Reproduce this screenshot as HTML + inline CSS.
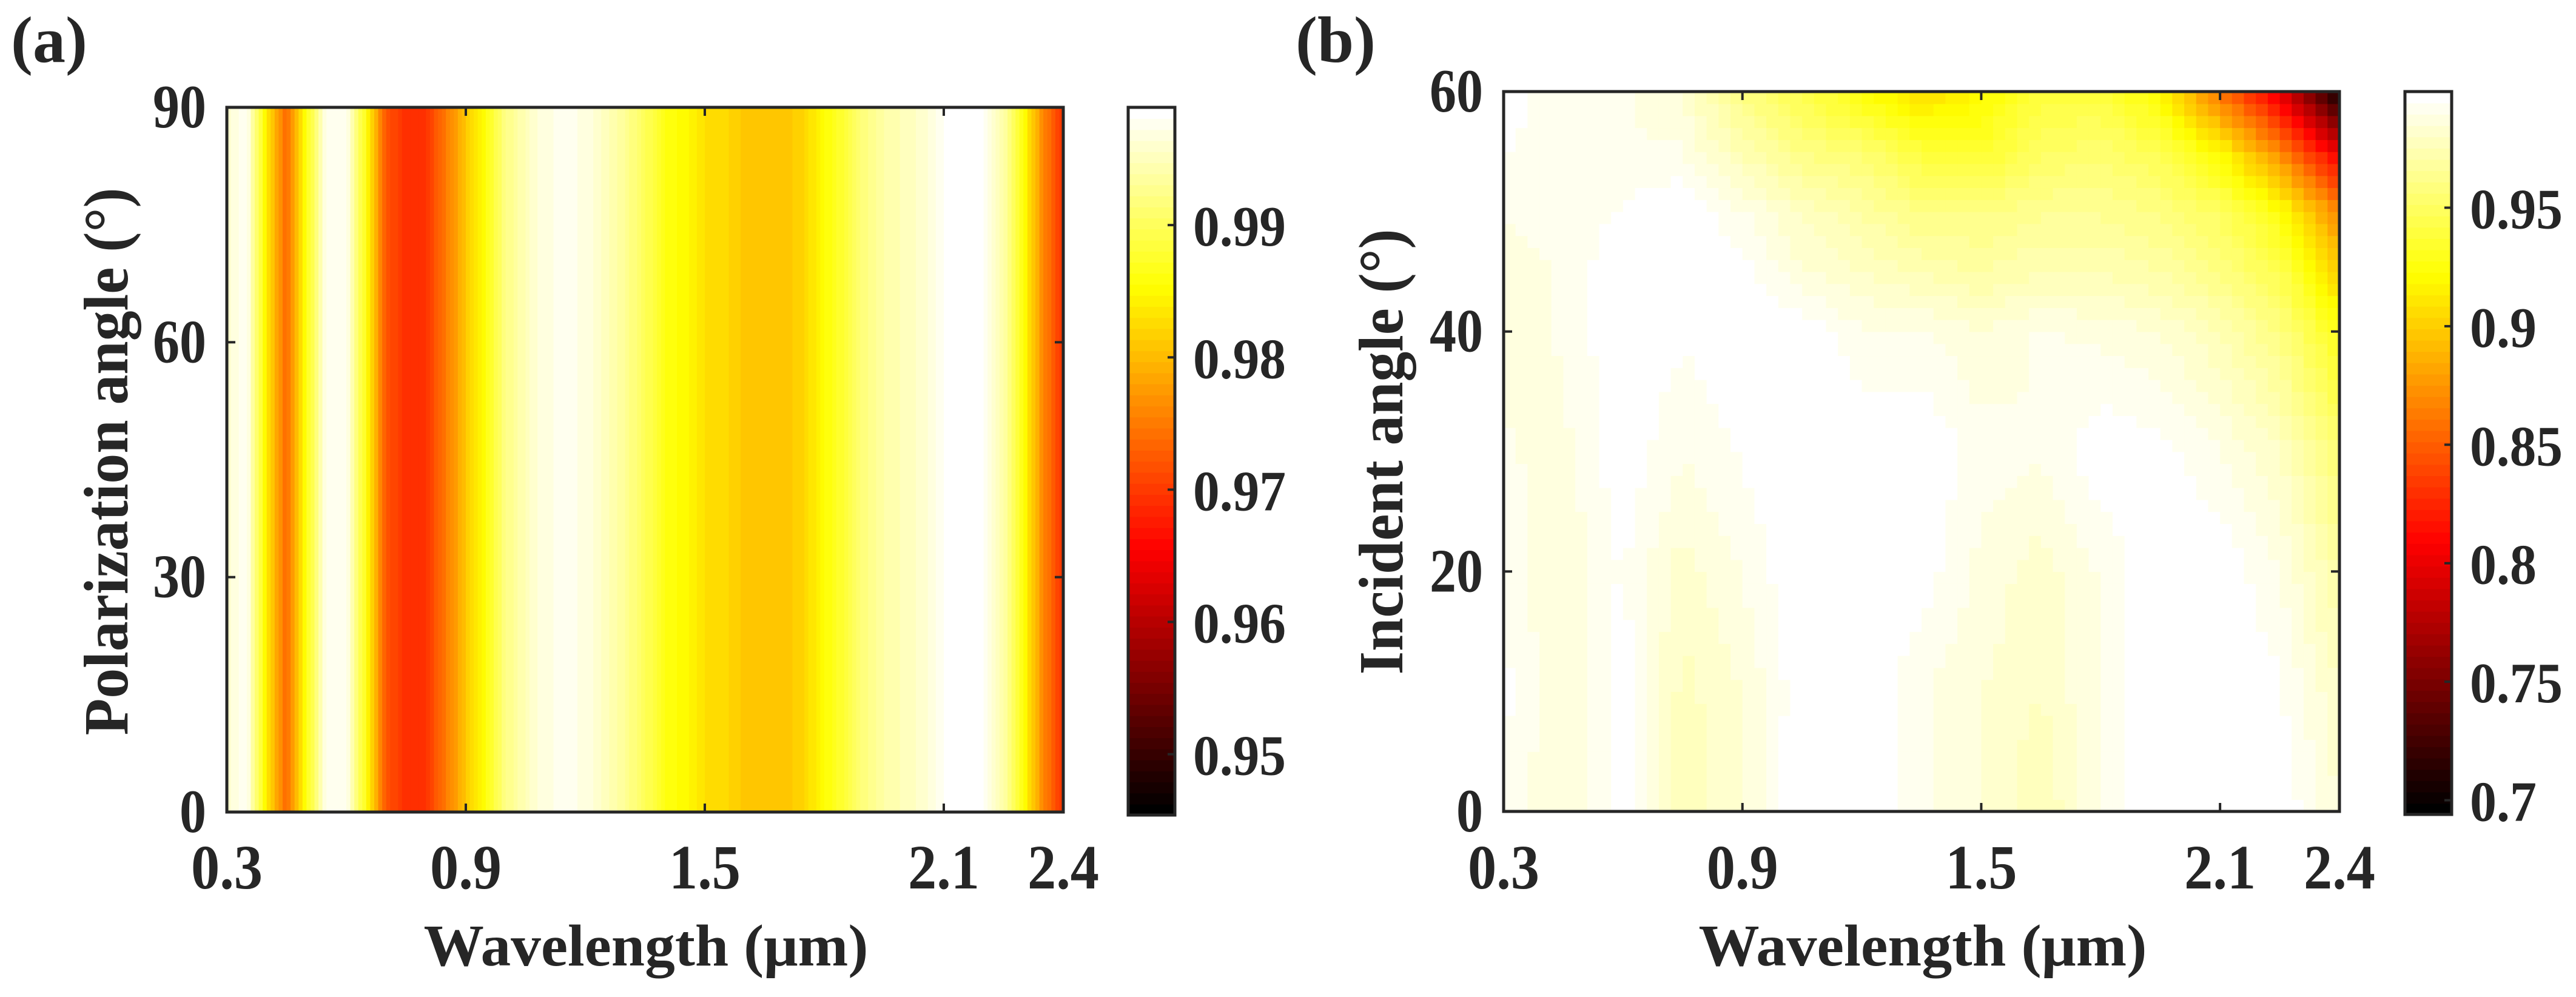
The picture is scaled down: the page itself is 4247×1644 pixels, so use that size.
<!DOCTYPE html>
<html>
<head>
<meta charset="utf-8">
<style>
html,body{margin:0;padding:0;background:#fff;}
svg{display:block;}
text{font-family:"Liberation Serif","Times New Roman",serif;font-weight:bold;fill:#262626;}
</style>
</head>
<body>
<svg id="fig" width="4247" height="1644" viewBox="0 0 4247 1644" xmlns="http://www.w3.org/2000/svg">
  <rect x="0" y="0" width="4247" height="1644" fill="#fff"/>
  <g id="panelA">
    <g id="heatA"></g>
    <rect x="374" y="177" width="1379" height="1162" fill="none" stroke="#262626" stroke-width="5"/>
    <g id="ticksA"></g>
    <g id="cbarA"></g>
    <text x="18" y="102" font-size="108">(a)</text>
    <text x="1065" y="1592" font-size="98" text-anchor="middle" textLength="733" lengthAdjust="spacingAndGlyphs">Wavelength (μm)</text>
    <text transform="translate(210,761) rotate(-90)" x="0" y="0" font-size="104" text-anchor="middle" textLength="903" lengthAdjust="spacingAndGlyphs">Polarization angle (°)</text>
  </g>
  <g id="panelB">
    <g id="heatB"></g>
    <rect x="2479" y="151" width="1378" height="1187" fill="none" stroke="#262626" stroke-width="5"/>
    <g id="ticksB"></g>
    <g id="cbarB"></g>
    <text x="2136" y="102" font-size="108">(b)</text>
    <text x="3170" y="1592" font-size="98" text-anchor="middle" textLength="739" lengthAdjust="spacingAndGlyphs">Wavelength (μm)</text>
    <text transform="translate(2312,745) rotate(-90)" x="0" y="0" font-size="104" text-anchor="middle" textLength="735" lengthAdjust="spacingAndGlyphs">Incident angle (°)</text>
  </g>
</svg>
<script>
// ---- Panel (a) data: absorptance vs wavelength (independent of polarization angle)
const wavelengthsA = [0.30,0.35,0.40,0.45,0.50,0.55,0.60,0.65,0.70,0.75,0.80,0.85,0.90,0.95,1.00,1.05,1.10,1.15,1.20,1.25,1.30,1.35,1.40,1.45,1.50,1.55,1.60,1.65,1.70,1.75,1.80,1.85,1.90,1.95,2.00,2.05,2.10,2.15,2.20,2.25,2.30,2.35,2.40];
const valuesA = [0.996,0.998,0.984,0.9735,0.986,0.998,0.998,0.986,0.972,0.9692,0.9695,0.975,0.981,0.986,0.992,0.995,0.997,0.9975,0.997,0.995,0.993,0.990,0.9865,0.985,0.983,0.9825,0.981,0.981,0.981,0.982,0.9855,0.988,0.992,0.994,0.995,0.996,0.998,0.9989,0.998,0.994,0.986,0.976,0.969];
const xTicksA = [0.3,0.9,1.5,2.1,2.4];
const xTickLabelsA = ["0.3","0.9","1.5","2.1","2.4"];
const yTicksA = [0,30,60,90];
const yTickLabelsA = ["0","30","60","90"];
const cbarTicksA = [0.95,0.96,0.97,0.98,0.99];
const cbarLabelsA = ["0.95","0.96","0.97","0.98","0.99"];
const climA = [0.9454,0.9989];

// ---- Panel (b) data: absorptance vs wavelength (columns) and incident angle (rows)
const wavelengthsB = [0.30,0.45,0.60,0.75,0.90,1.05,1.20,1.35,1.50,1.65,1.80,1.95,2.10,2.25,2.40];
const anglesB = [0,10,20,30,40,45,50,55,60];
const row0  = [0.992,0.985,0.997,0.975,0.985,0.999,0.999,0.990,0.985,0.975,0.990,0.999,0.999,0.999,0.985];
const row10 = [0.996,0.985,0.997,0.978,0.985,0.998,0.999,0.990,0.985,0.980,0.990,0.999,0.999,0.995,0.980];
const row20 = [0.992,0.985,0.995,0.982,0.990,0.999,0.999,0.997,0.988,0.982,0.990,0.999,0.998,0.990,0.970];
const row30 = [0.990,0.988,0.998,0.990,0.995,0.999,0.999,0.999,0.992,0.990,0.998,0.996,0.990,0.980,0.955];
const row40 = [0.988,0.990,0.999,0.995,0.999,0.999,0.990,0.990,0.985,0.990,0.988,0.985,0.975,0.960,0.930];
const row45 = [0.988,0.990,0.999,0.999,0.997,0.985,0.980,0.975,0.970,0.975,0.975,0.970,0.960,0.945,0.900];
const row50 = [0.990,0.990,0.995,0.999,0.990,0.980,0.970,0.960,0.960,0.965,0.965,0.960,0.950,0.925,0.870];
const row55 = [0.995,0.990,0.990,0.990,0.975,0.960,0.955,0.940,0.935,0.950,0.955,0.945,0.920,0.870,0.800];
const row60 = [0.998,0.990,0.990,0.985,0.960,0.945,0.925,0.905,0.920,0.940,0.940,0.920,0.860,0.800,0.700];
const valuesB = [row0,row10,row20,row30,row40,row45,row50,row55,row60];
const xTicksB = [0.3,0.9,1.5,2.1,2.4];
const xTickLabelsB = ["0.3","0.9","1.5","2.1","2.4"];
const yTicksB = [0,20,40,60];
const yTickLabelsB = ["0","20","40","60"];
const cbarTicksB = [0.70,0.75,0.80,0.85,0.90,0.95];
const cbarLabelsB = ["0.7","0.75","0.8","0.85","0.9","0.95"];
const climB = [0.694,0.999];

const NS = "http://www.w3.org/2000/svg";
function mk(tag, attrs, parent){
  const e = document.createElementNS(NS, tag);
  for (const k in attrs) e.setAttribute(k, attrs[k]);
  parent.appendChild(e);
  return e;
}
function hot(t){
  t = Math.max(0, Math.min(1, t));
  t = Math.floor(t*63.999)/63;
  const r = Math.min(1, t/0.375);
  const g = Math.max(0, Math.min(1, (t-0.375)/0.375));
  const b = Math.max(0, Math.min(1, (t-0.75)/0.25));
  return "rgb(" + Math.round(r*255) + "," + Math.round(g*255) + "," + Math.round(b*255) + ")";
}
function interp1(xs, ys, x){
  if (x <= xs[0]) return ys[0];
  for (let i = 1; i < xs.length; i++){
    if (x <= xs[i]){ const f = (x - xs[i-1])/(xs[i]-xs[i-1]); return ys[i-1] + f*(ys[i]-ys[i-1]); }
  }
  return ys[ys.length-1];
}
function interp2(x, y){
  const rowVals = valuesB.map(r => interp1(wavelengthsB, r, x));
  return interp1(anglesB, rowVals, y);
}
// condensed label width (reference glyphs are narrow)
function labelLen(s, digit, dot){
  let w = 0;
  for (const c of s) w += (c === ".") ? dot : digit;
  return w;
}

const A = {x0:374, x1:1753, y0:1339, y1:177, lmin:0.3, lmax:2.4, amax:90};
const B = {x0:2479, x1:3857, y0:1338, y1:151, lmin:0.3, lmax:2.4, amax:60};
function xs(P, l){ return P.x0 + (l - P.lmin)/(P.lmax - P.lmin)*(P.x1 - P.x0); }
function ys(P, a){ return P.y0 - a/P.amax*(P.y0 - P.y1); }

// ---- Heatmap A
const heatA = document.getElementById("heatA");
const NA = 210;
for (let i = 0; i < NA; i++){
  const l0 = A.lmin + (A.lmax - A.lmin)*i/NA, l1 = A.lmin + (A.lmax - A.lmin)*(i+1)/NA;
  const v = interp1(wavelengthsA, valuesA, (l0+l1)/2);
  const r = mk("rect", {x: xs(A,l0).toFixed(2), y: A.y1, width: (xs(A,l1)-xs(A,l0)+0.8).toFixed(2), height: A.y0 - A.y1, fill: hot((v-climA[0])/(climA[1]-climA[0]))}, heatA);
  
  
}
// ---- Heatmap B
const heatB = document.getElementById("heatB");
const NX = 70, NY = 60;
for (let j = 0; j < NY; j++){
  const a0 = B.amax*j/NY, a1 = B.amax*(j+1)/NY;
  for (let i = 0; i < NX; i++){
    const l0 = B.lmin + (B.lmax-B.lmin)*i/NX, l1 = B.lmin + (B.lmax-B.lmin)*(i+1)/NX;
    const v = interp2((l0+l1)/2, (a0+a1)/2);
    const r = mk("rect", {x: xs(B,l0).toFixed(2), y: ys(B,a1).toFixed(2), width: (xs(B,l1)-xs(B,l0)+0.8).toFixed(2), height: (ys(B,a0)-ys(B,a1)+0.8).toFixed(2), fill: hot((v-climB[0])/(climB[1]-climB[0]))}, heatB);
    
    
  }
}

function axisTicks(P, g, xt, xl, yt, yl, suffix){
  const L = 14;
  xt.forEach((t, i) => {
    const x = xs(P, t);
    const a = mk("line", {x1:x, x2:x, y1:P.y0, y2:P.y0-L, stroke:"#262626", "stroke-width":4}, g);
    
    
    const b = mk("line", {x1:x, x2:x, y1:P.y1, y2:P.y1+L, stroke:"#262626", "stroke-width":4}, g);
    
    
    const tx = mk("text", {x:x, y:1465, "font-size":104, "text-anchor":"middle", textLength: labelLen(xl[i], 46, 26), lengthAdjust:"spacingAndGlyphs"}, g);
    tx.textContent = xl[i];
    
    
  });
  yt.forEach((t, i) => {
    const y = ys(P, t);
    const a = mk("line", {x1:P.x0, x2:P.x0+L, y1:y, y2:y, stroke:"#262626", "stroke-width":4}, g);
    
    
    const b = mk("line", {x1:P.x1, x2:P.x1-L, y1:y, y2:y, stroke:"#262626", "stroke-width":4}, g);
    
    
    const tx = mk("text", {x:P.x0-34, y:y+33, "font-size":102, "text-anchor":"end", textLength: labelLen(yl[i], 44, 26), lengthAdjust:"spacingAndGlyphs"}, g);
    tx.textContent = yl[i];
    
    
  });
}
axisTicks(A, document.getElementById("ticksA"), xTicksA, xTickLabelsA, yTicksA, yTickLabelsA, "a");
axisTicks(B, document.getElementById("ticksB"), xTicksB, xTickLabelsB, yTicksB, yTickLabelsB, "b");

function colorbar(g, x0, x1, yTop, yBot, clim, ticks, labels, suffix){
  const N = 64;
  for (let k = 0; k < N; k++){
    const yA = yBot - (yBot-yTop)*(k+1)/N;
    const r = mk("rect", {x:x0, y:yA.toFixed(2), width:x1-x0, height:((yBot-yTop)/N+0.8).toFixed(2), fill: hot((k+0.5)/N)}, g);
    
    
  }
  const f = mk("rect", {x:x0, y:yTop, width:x1-x0, height:yBot-yTop, fill:"none", stroke:"#262626", "stroke-width":5}, g);
  
  
  ticks.forEach((t, i) => {
    const y = yBot - (t - clim[0])/(clim[1]-clim[0])*(yBot-yTop);
    const tk = mk("line", {x1:x1-12, x2:x1, y1:y, y2:y, stroke:"#262626", "stroke-width":4}, g);
    
    
    const tx = mk("text", {x:x1+30, y:y+34, "font-size":94, textLength: labelLen(labels[i], 43, 24), lengthAdjust:"spacingAndGlyphs"}, g);
    tx.textContent = labels[i];
    
    
  });
}
colorbar(document.getElementById("cbarA"), 1860, 1937, 177, 1344, climA, cbarTicksA, cbarLabelsA, "a");
colorbar(document.getElementById("cbarB"), 3965, 4042, 151, 1343, climB, cbarTicksB, cbarLabelsB, "b");
</script>
</body>
</html>
